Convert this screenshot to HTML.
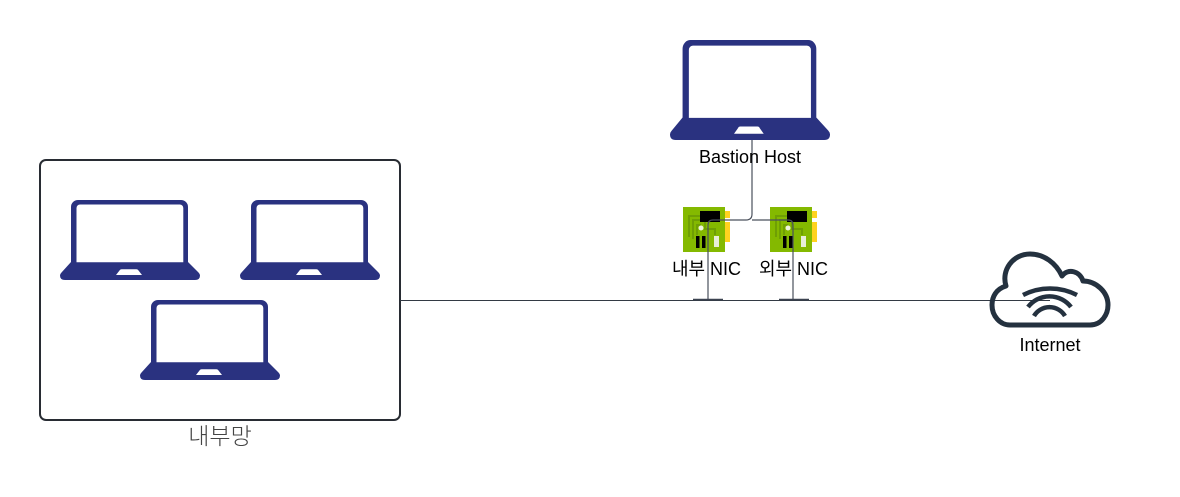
<!DOCTYPE html>
<html><head><meta charset="utf-8"><style>
html,body{margin:0;padding:0;background:#fff}
svg{display:block}
text{font-family:"Liberation Sans","Noto Sans CJK KR",sans-serif;fill:#000;text-anchor:middle}
</style></head><body>
<svg width="1180" height="497" viewBox="0 0 1180 497" xmlns="http://www.w3.org/2000/svg">
<defs>
<g id="lap"><path fill="#2a3280" fill-rule="evenodd" d="M11 62V7A7 7 0 0 1 18 0H121A7 7 0 0 1 128 7V62L138.500 72.500Q140 74 140 75.500Q140 80 135 80H5Q0 80 0 75.500Q0 74 1.500 72.500L11 62ZM16.500 62.300H123.300V8A3.500 3.500 0 0 0 119.800 4.500H20A3.500 3.500 0 0 0 16.500 8ZM56 75H82L78.500 70.500Q78 69.200 76.500 69.200H61.500Q60 69.200 59.500 70.500Z"/></g>
<g id="nic">
<rect x="42" y="4" width="5" height="7" fill="#ffd21f"/><rect x="42" y="15" width="5" height="20" fill="#ffd21f"/>
<rect width="42" height="45" fill="#84b900"/>
<path d="M6 30V9H24M10 32V13H22V22H32V28M14 28V18H18" fill="none" stroke="#6f9f04" stroke-width="2"/>
<rect x="17" y="4" width="20" height="11" fill="#000"/>
<circle cx="18" cy="21" r="2.500" fill="#eef3df"/>
<rect x="13" y="29" width="3.500" height="12" fill="#000"/><rect x="19" y="29" width="3.500" height="12" fill="#000"/>
<rect x="31" y="29" width="5" height="11" fill="#e8eed8"/>
</g>
</defs>
<rect x="40" y="160" width="360" height="260" rx="6" fill="#fff" stroke="#282c33" stroke-width="2"/>
<use href="#lap" x="60" y="200"/><use href="#lap" x="240" y="200"/><use href="#lap" x="140" y="300"/>
<use href="#lap" transform="translate(670 40) scale(1.143 1.25)"/>
<use href="#nic" x="683" y="207"/><use href="#nic" x="770" y="207"/>
<g fill="none">
<path d="M400 300.500H1050" stroke="#333a44" stroke-width="1"/>
<path d="M708 300V225Q708 220 713 220H746Q752 220 752 214V140" stroke="#4a505c" stroke-width="1.200"/>
<path d="M752 220H788Q793 220 793 225V300" stroke="#4a505c" stroke-width="1.200"/>
<path d="M693 299.500H723M779 299.500H809" stroke="#3c4350" stroke-width="1.500"/>
<path d="M1010 325H1090C1102 325 1108 314 1108 305C1108 292 1096 281 1083 281C1080 271 1068 268 1062 276C1056 263 1044 254 1030 254C1013 254 1001 270 1006 286C996 289 992 297 992 305C992 316 1000 325 1010 325Z" stroke="#24313f" stroke-width="5" stroke-linejoin="round"/>
<path d="M1023 295A59 59 0 0 1 1077 295M1028 307A27 27 0 0 1 1071 307M1034 316A18 18 0 0 1 1065 316" stroke="#24313f" stroke-width="4.500"/>
</g>
<text x="750" y="163" font-size="18">Bastion Host</text>
<text x="706.500" y="275" font-size="18">내부 NIC</text>
<text x="793.500" y="275" font-size="18">외부 NIC</text>
<text x="1050" y="351" font-size="18">Internet</text>
<text x="220" y="444" font-size="23" style="fill:#444;font-weight:300">내부망</text>
</svg>
</body></html>
